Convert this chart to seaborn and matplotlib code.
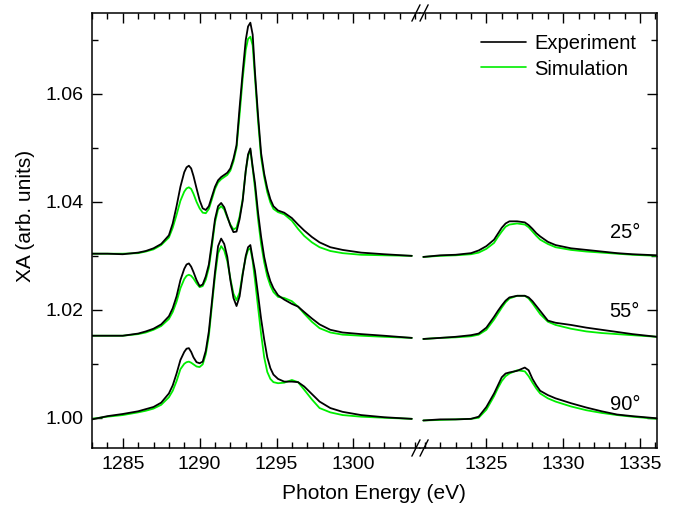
import numpy as np
import pandas as pd
import matplotlib
matplotlib.use("Agg")
import matplotlib.pyplot as plt
from matplotlib.ticker import MultipleLocator
from matplotlib.lines import Line2D
import seaborn as sns

# ---------------- data ----------------
x_left = [1283, 1284, 1285, 1286, 1286.5, 1287, 1287.5, 1288, 1288.25, 1288.5,
          1288.75, 1289.0, 1289.15, 1289.3, 1289.45, 1289.6, 1289.8, 1290.0, 1290.2, 1290.4,
          1290.6, 1290.8, 1291.0, 1291.2, 1291.4, 1291.6, 1291.8, 1292.0, 1292.2, 1292.4,
          1292.6, 1292.8, 1293.0, 1293.15, 1293.3, 1293.45, 1293.6, 1293.8, 1294.0, 1294.2,
          1294.4, 1294.6, 1294.8, 1295.1, 1295.5, 1296.0, 1296.4, 1296.8, 1297.3, 1297.8,
          1298.5, 1299.3, 1300.5, 1302.0, 1303.8]

exp25_left = [1.0304, 1.0304, 1.0303, 1.0306, 1.0309, 1.0314, 1.0322, 1.0338, 1.0360, 1.0392,
              1.0428, 1.0455, 1.0464, 1.0467, 1.0462, 1.0448, 1.0425, 1.0403, 1.0388, 1.0385,
              1.0392, 1.0410, 1.0428, 1.0440, 1.0446, 1.0450, 1.0454, 1.0462, 1.0480, 1.0505,
              1.0575, 1.0640, 1.0700, 1.0725, 1.0732, 1.0710, 1.0640, 1.0560, 1.0490, 1.0452,
              1.0425, 1.0405, 1.0392, 1.0384, 1.0380, 1.0370, 1.0358, 1.0347, 1.0335, 1.0325,
              1.0316, 1.0311, 1.0306, 1.0303, 1.0300]
sim25_left = [1.0304, 1.0304, 1.0304, 1.0305, 1.0308, 1.0312, 1.0320, 1.0334, 1.0352, 1.0376,
              1.0402, 1.0419, 1.0425, 1.0427, 1.0424, 1.0415, 1.0400, 1.0388, 1.0380, 1.0379,
              1.0387, 1.0405, 1.0424, 1.0436, 1.0442, 1.0446, 1.0450, 1.0458, 1.0475, 1.0500,
              1.0562, 1.0628, 1.0682, 1.0702, 1.0706, 1.0690, 1.0630, 1.0550, 1.0482, 1.0446,
              1.0418, 1.0399, 1.0387, 1.0381, 1.0377, 1.0365, 1.0350, 1.0337, 1.0325, 1.0316,
              1.0309, 1.0305, 1.0302, 1.0301, 1.0300]
exp55_left = [1.0152, 1.0152, 1.0152, 1.0156, 1.0160, 1.0165, 1.0173, 1.0188, 1.0203, 1.0225,
              1.0255, 1.0276, 1.0284, 1.0286, 1.0280, 1.0270, 1.0255, 1.0244, 1.0247, 1.0262,
              1.0284, 1.0325, 1.0368, 1.0392, 1.0398, 1.0390, 1.0373, 1.0356, 1.0344, 1.0345,
              1.0368, 1.0402, 1.0458, 1.0488, 1.0499, 1.0465, 1.0435, 1.0380, 1.0335, 1.0298,
              1.0272, 1.0253, 1.0240, 1.0227, 1.0219, 1.0211, 1.0206, 1.0196, 1.0184, 1.0173,
              1.0163, 1.0158, 1.0155, 1.0152, 1.0148]
sim55_left = [1.0152, 1.0152, 1.0152, 1.0155, 1.0158, 1.0163, 1.0170, 1.0183, 1.0196, 1.0215,
              1.0240, 1.0257, 1.0263, 1.0265, 1.0263, 1.0258, 1.0249, 1.0242, 1.0244, 1.0256,
              1.0278, 1.0318, 1.0362, 1.0386, 1.0392, 1.0386, 1.0371, 1.0358, 1.0349, 1.0352,
              1.0373, 1.0405, 1.0457, 1.0485, 1.0496, 1.0462, 1.0425, 1.0368, 1.0322, 1.0288,
              1.0262, 1.0245, 1.0233, 1.0224, 1.0222, 1.0216, 1.0206, 1.0193, 1.0178, 1.0166,
              1.0158, 1.0154, 1.0152, 1.0150, 1.0148]
exp90_left = [0.9997, 1.0003, 1.0007, 1.0012, 1.0016, 1.0020, 1.0028, 1.0045, 1.0060, 1.0082,
              1.0107, 1.0122, 1.0128, 1.0129, 1.0122, 1.0112, 1.0103, 1.0101, 1.0104, 1.0124,
              1.0160, 1.0215, 1.0270, 1.0318, 1.0332, 1.0322, 1.0298, 1.0255, 1.0222, 1.0207,
              1.0225, 1.0265, 1.0300, 1.0316, 1.0320, 1.0295, 1.0272, 1.0228, 1.0183, 1.0145,
              1.0112, 1.0092, 1.0080, 1.0072, 1.0067, 1.0067, 1.0066, 1.0058, 1.0044, 1.0030,
              1.0018, 1.0011, 1.0005, 1.0001, 0.9998]
sim90_left = [0.9998, 1.0002, 1.0005, 1.0010, 1.0013, 1.0017, 1.0024, 1.0038, 1.0050, 1.0068,
              1.0090, 1.0100, 1.0103, 1.0104, 1.0102, 1.0099, 1.0095, 1.0094, 1.0099, 1.0118,
              1.0152, 1.0208, 1.0262, 1.0305, 1.0318, 1.0310, 1.0290, 1.0258, 1.0230, 1.0218,
              1.0232, 1.0268, 1.0297, 1.0311, 1.0314, 1.0290, 1.0255, 1.0205, 1.0155, 1.0112,
              1.0085, 1.0072, 1.0066, 1.0064, 1.0065, 1.0070, 1.0066, 1.0052, 1.0034, 1.0018,
              1.0010, 1.0005, 1.0002, 1.0000, 0.9998]

x_right = [1320.9, 1322, 1323, 1324, 1324.5, 1325, 1325.5, 1325.75, 1326, 1326.25,
           1326.5, 1327, 1327.5, 1327.75, 1328, 1328.25, 1328.5, 1329, 1329.5, 1330.5,
           1331.5, 1332.5, 1333.5, 1334.5, 1336.1]
exp25_right = [1.0298, 1.0301, 1.0302, 1.0305, 1.0310, 1.0318, 1.0330, 1.0341, 1.0352, 1.0360,
               1.0364, 1.0364, 1.0362, 1.0357, 1.0350, 1.0342, 1.0336, 1.0326, 1.0320, 1.0314,
               1.0311, 1.0308, 1.0305, 1.0303, 1.0301]
sim25_right = [1.0298, 1.0300, 1.0301, 1.0303, 1.0306, 1.0313, 1.0324, 1.0335, 1.0345, 1.0354,
               1.0358, 1.0360, 1.0358, 1.0353, 1.0345, 1.0337, 1.0330, 1.0322, 1.0316, 1.0311,
               1.0308, 1.0306, 1.0304, 1.0302, 1.0300]
exp55_right = [1.0146, 1.0148, 1.0150, 1.0153, 1.0156, 1.0167, 1.0187, 1.0198, 1.0208, 1.0217,
               1.0223, 1.0226, 1.0226, 1.0223, 1.0216, 1.0207, 1.0198, 1.0180, 1.0176, 1.0172,
               1.0167, 1.0163, 1.0159, 1.0155, 1.0150]
sim55_right = [1.0146, 1.0148, 1.0149, 1.0151, 1.0154, 1.0163, 1.0182, 1.0193, 1.0204, 1.0214,
               1.0221, 1.0226, 1.0226, 1.0221, 1.0212, 1.0202, 1.0192, 1.0178, 1.0172, 1.0165,
               1.0160, 1.0157, 1.0155, 1.0153, 1.0150]
exp90_right = [0.9995, 0.9997, 0.9997, 0.9998, 1.0002, 1.0020, 1.0045, 1.0060, 1.0075, 1.0082,
               1.0084, 1.0087, 1.0093, 1.0088, 1.0072, 1.0060, 1.0050, 1.0042, 1.0036, 1.0027,
               1.0019, 1.0012, 1.0006, 1.0003, 0.9999]
sim90_right = [0.9995, 0.9996, 0.9997, 0.9998, 1.0000, 1.0015, 1.0040, 1.0055, 1.0068, 1.0077,
               1.0082, 1.0088, 1.0086, 1.0077, 1.0065, 1.0054, 1.0045, 1.0036, 1.0030, 1.0021,
               1.0014, 1.0009, 1.0005, 1.0002, 0.9998]

angle_labels = ["25°", "55°", "90°"]
angle_label_y = [1.0343, 1.0196, 1.0024]
x_ticks_left = [1285, 1290, 1295, 1300]
x_ticks_right = [1325, 1330, 1335]
y_ticks = [1.00, 1.02, 1.04, 1.06]

# ---------------- style ----------------
sns.set_theme(style="ticks")
plt.rcParams["font.family"] = ["Liberation Sans", "DejaVu Sans"]
plt.rcParams["xtick.direction"] = "in"
plt.rcParams["ytick.direction"] = "in"
plt.rcParams["text.color"] = "black"
plt.rcParams["axes.labelcolor"] = "black"
plt.rcParams["xtick.labelcolor"] = "black"
plt.rcParams["ytick.labelcolor"] = "black"

EXP_C = "black"
SIM_C = "#00ee00"
LW = 1.3

fig = plt.figure(figsize=(6.77, 5.11), dpi=100)
gs = fig.add_gridspec(1, 2, width_ratios=[1304.35 - 1283.0, 1336.1 - 1320.7], wspace=0,
                      left=0.1359, right=0.9705, bottom=0.1233, top=0.9746)
axL = fig.add_subplot(gs[0, 0])
axR = fig.add_subplot(gs[0, 1], sharey=axL)

def draw(ax, xs, sims, exps):
    for s in sims:
        sns.lineplot(x=xs, y=s, ax=ax, color=SIM_C, lw=LW, sort=False, estimator=None,
                     solid_joinstyle="round")
    for e in exps:
        sns.lineplot(x=xs, y=e, ax=ax, color=EXP_C, lw=LW, sort=False, estimator=None,
                     solid_joinstyle="round")

draw(axL, x_left, [sim25_left, sim55_left, sim90_left], [exp25_left, exp55_left, exp90_left])
draw(axR, x_right, [sim25_right, sim55_right, sim90_right], [exp25_right, exp55_right, exp90_right])

axL.set_xlim(1283.0, 1304.35)
axR.set_xlim(1320.7, 1336.1)
axL.set_ylim(0.9944, 1.075)

for ax in (axL, axR):
    for sp in ax.spines.values():
        sp.set_linewidth(1.1)
        sp.set_color("black")
    ax.xaxis.set_minor_locator(MultipleLocator(1))
    ax.yaxis.set_minor_locator(MultipleLocator(0.01))
    ax.tick_params(which="major", length=7, width=1.0, colors="black", labelsize=14,
                   top=True, pad=6)
    ax.tick_params(which="minor", length=4, width=1.0, colors="black", top=True)
    ax.set_xlabel("")
    ax.set_ylabel("")

axL.set_xticks(x_ticks_left)
axR.set_xticks(x_ticks_right)
axL.set_yticks(y_ticks)
axL.set_yticklabels([f"{v:.2f}" for v in y_ticks])
axL.spines["right"].set_visible(False)
axR.spines["left"].set_visible(False)
axL.tick_params(which="both", right=False)
axR.tick_params(which="both", left=False, labelleft=False, right=True, labelright=False)

# break marks
for yfig in (0.1233, 0.9746):
    xb = 0.6204
    for dx in (-0.006, 0.006):
        fig.add_artist(Line2D([xb + dx - 0.006, xb + dx + 0.006], [yfig - 0.016, yfig + 0.016],
                              color="black", lw=1.0, transform=fig.transFigure))

for lab, yv in zip(angle_labels, angle_label_y):
    axR.text(1335.0, yv, lab, ha="right", va="center", fontsize=14.5, color="black")

fig.text(0.5524, 0.035, "Photon Energy (eV)", ha="center", va="center", fontsize=15)
fig.text(0.038, 0.578, "XA (arb. units)", ha="center", va="center", rotation=90, fontsize=15)

handles = [Line2D([], [], color=EXP_C, lw=1.2), Line2D([], [], color=SIM_C, lw=1.2)]
fig.legend(handles, ["Experiment", "Simulation"], loc="upper right",
           bbox_to_anchor=(0.967, 0.968), frameon=False, fontsize=14.5,
           handlelength=2.25, handletextpad=0.4, labelspacing=0.3)

fig.savefig("out.png", dpi=100)
